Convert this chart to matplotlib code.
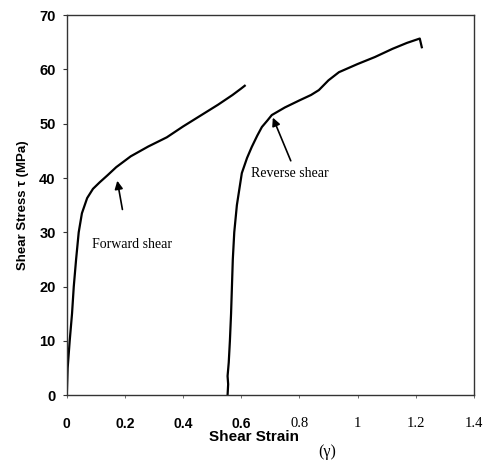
import matplotlib.pyplot as plt

# forward shear curve (strain, stress in MPa)
fwd_strain = [0.0, 0.003, 0.01, 0.018, 0.024, 0.032, 0.041, 0.052, 0.07, 0.09, 0.113, 0.14,
              0.17, 0.22, 0.28, 0.344, 0.40, 0.46, 0.52, 0.57, 0.60, 0.612]
fwd_stress = [0.0, 5.0, 10.0, 15.0, 20.0, 25.0, 30.0, 33.5, 36.3, 38.0, 39.2, 40.5,
              42.0, 44.0, 45.8, 47.5, 49.5, 51.5, 53.5, 55.3, 56.5, 57.0]

# reverse shear curve
rev_strain = [0.553, 0.555, 0.553, 0.557, 0.561, 0.565, 0.568, 0.571, 0.576, 0.585, 0.602,
              0.62, 0.636, 0.655, 0.671, 0.69, 0.705, 0.75, 0.80, 0.84, 0.867, 0.90, 0.936,
              1.0, 1.06, 1.12, 1.17, 1.214, 1.221]
rev_stress = [0.0, 2.0, 3.5, 6.0, 10.0, 15.0, 20.0, 25.0, 30.0, 35.0, 40.9,
              43.7, 45.7, 47.8, 49.4, 50.6, 51.6, 53.0, 54.3, 55.3, 56.2, 58.0, 59.5,
              61.0, 62.3, 63.8, 64.9, 65.7, 64.1]

fig = plt.figure(figsize=(4.84, 4.61), dpi=100)
ax = fig.add_axes([0.138, 0.143, 0.841, 0.824])

ax.plot(fwd_strain, fwd_stress, color='black', lw=1.6)
ax.plot(rev_strain, rev_stress, color='black', lw=1.6)

ax.set_xlim(0, 1.4)
ax.set_ylim(0, 70)
ax.set_xticks([0, 0.2, 0.4, 0.6, 0.8, 1.0, 1.2, 1.4])
ax.set_xticklabels(['0', '0.2', '0.4', '0.6', '0.8', '1', '1.2', '1.4'])
ax.set_yticks(range(0, 71, 10))

for lab in ax.get_yticklabels():
    lab.set_fontfamily('Liberation Sans')
    lab.set_fontweight('bold')
    lab.set_fontsize(10.5)
for i, lab in enumerate(ax.get_xticklabels()):
    if i < 4:
        lab.set_fontfamily('Liberation Sans')
        lab.set_fontweight('bold')
        lab.set_fontsize(10)
    else:
        lab.set_fontfamily('Liberation Serif')
        lab.set_fontsize(10.5)

ax.tick_params(axis='y', direction='out', length=3, width=0.8, pad=5, colors='#333333',
               labelcolor='black')
ax.tick_params(axis='x', direction='out', length=2, width=0.6, pad=14, colors='#555555',
               labelcolor='black')
for s in ax.spines.values():
    s.set_color('#333333')
    s.set_linewidth(1.0)

ax.set_ylabel('Shear Stress \u03c4 (MPa)', fontfamily='Liberation Sans', fontweight='bold',
              fontsize=9.5, labelpad=7)
fig.text(0.525, 0.052, 'Shear Strain', fontfamily='Liberation Sans', fontweight='bold',
         fontsize=11, ha='center', va='center')
fig.text(0.676, 0.020, '(\u03b3)', fontfamily='Liberation Serif', fontsize=11.5,
         ha='center', va='center')

ax.annotate('', xy=(0.172, 40.0), xytext=(0.193, 33.7),
            arrowprops=dict(arrowstyle='-|>', color='black', lw=1.2, mutation_scale=12))
ax.text(0.224, 27.8, 'Forward shear', fontfamily='Liberation Serif', fontsize=10,
        ha='center', va='center')
ax.annotate('', xy=(0.705, 51.6), xytext=(0.774, 42.7),
            arrowprops=dict(arrowstyle='-|>', color='black', lw=1.2, mutation_scale=12))
ax.text(0.767, 40.9, 'Reverse shear', fontfamily='Liberation Serif', fontsize=10,
        ha='center', va='center')

fig.savefig('out.png', dpi=100)
